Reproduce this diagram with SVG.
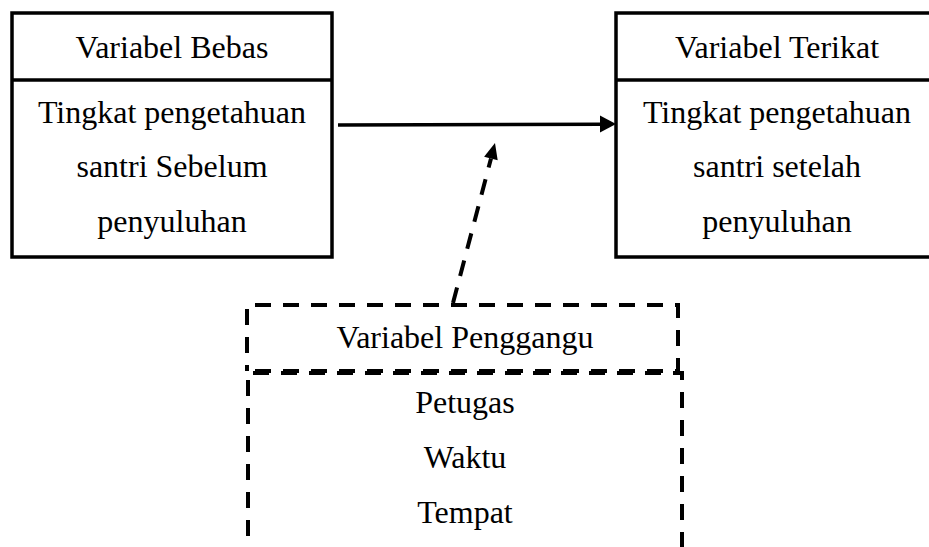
<svg xmlns="http://www.w3.org/2000/svg" width="929" height="547" viewBox="0 0 929 547">
<style>
text{font-family:"Liberation Serif","Times New Roman",serif;font-size:32px;fill:#000;text-anchor:middle}
.box{fill:none;stroke:#000;stroke-width:3.5}
.dash{fill:none;stroke:#000;stroke-width:4;stroke-dasharray:16 12}
.conn{fill:none;stroke:#000;stroke-width:3.5}
.head{fill:#000;stroke:none}
</style>
<rect width="929" height="547" fill="#fff"/>
<g id="bebas">
<rect class="box" x="12" y="13" width="320" height="244"/>
<line class="box" x1="12" y1="80" x2="332" y2="80"/>
<text x="172" y="58">Variabel Bebas</text>
<text x="172" y="123">Tingkat pengetahuan</text>
<text x="172" y="177">santri Sebelum</text>
<text x="172" y="232">penyuluhan</text>
</g>
<g id="terikat">
<rect class="box" x="616" y="13" width="324" height="244"/>
<line class="box" x1="616" y1="80" x2="940" y2="80"/>
<text x="777" y="58">Variabel Terikat</text>
<text x="777" y="123">Tingkat pengetahuan</text>
<text x="777" y="177">santri setelah</text>
<text x="777" y="232">penyuluhan</text>
</g>
<g id="pengganggu">
<path class="dash" d="M247,371 V305 H678 V371 Z" stroke-dashoffset="10"/>
<path class="dash" d="M248,560 V373 H682 V560" stroke-dashoffset="4"/>
<text x="465" y="348">Variabel Penggangu</text>
<text x="465" y="413">Petugas</text>
<text x="465" y="468">Waktu</text>
<text x="465" y="523">Tempat</text>
</g>
<g id="connectors">
<line class="conn" x1="338" y1="125" x2="602" y2="124.2"/>
<path class="head" d="M616,124 L600,115.5 L600,132.5 Z"/>
<line class="dash" x1="453" y1="303" x2="491" y2="158.5" stroke-dasharray="14 9" stroke-width="3.5"/>
<path class="head" d="M495,143 L497.7,160.3 L484.1,156.7 Z"/>
</g>
</svg>
